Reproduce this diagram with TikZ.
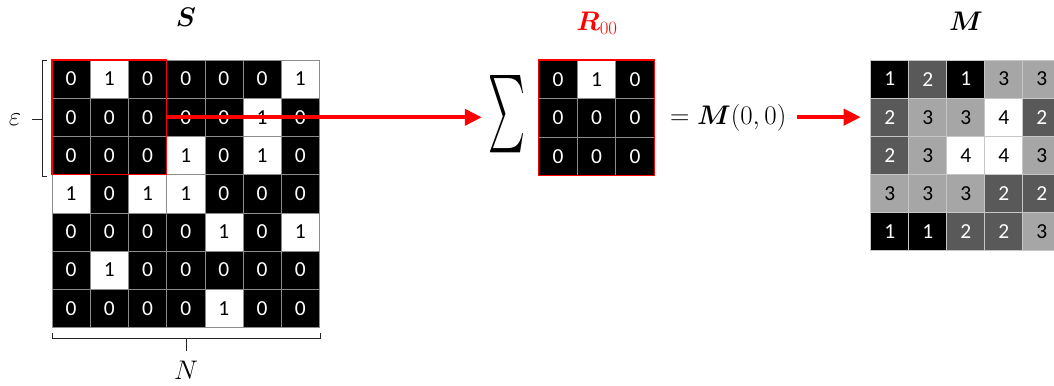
\RequirePackage{fix-cm}
\documentclass[tikz,border=0pt]{standalone}
\usepackage{amsmath}
\usepackage{bm}
\usepackage{fontspec}
\newfontfamily\cellfont{Carlito}
\usetikzlibrary{arrows.meta}
\definecolor{mdark}{HTML}{595959}
\definecolor{mlight}{HTML}{A6A6A6}
\definecolor{gridline}{HTML}{8C8C8C}
\begin{document}
\begin{tikzpicture}[x=1bp,y=-1bp,
  cellbase/.style={draw=gridline, line width=0.6bp, inner sep=0, outer sep=0,
    anchor=north west, font=\cellfont\fontsize{21.5}{22}\selectfont},
  scell/.style={cellbase, minimum width=38.2bp, minimum height=38.2bp},
  rcell/.style={cellbase, minimum width=38.5bp, minimum height=38.5bp},
  mcell/.style={cellbase, draw=gray!45, minimum width=38bp, minimum height=38.1bp},
  sv0/.style={fill=black, text=white},
  sv1/.style={fill=white, text=black},
  mv1/.style={fill=black, text=white},
  mv2/.style={fill=mdark, text=white},
  mv3/.style={fill=mlight, text=black},
  mv4/.style={fill=white, text=black},
  window/.style={draw=red, line width=1.2bp, inner sep=0, outer sep=0, anchor=north west},
  bracket/.style={line width=1bp, black!85},
  arr/.style={red, line width=4bp, -{Triangle[length=17bp,width=16bp]}},
  lbl/.style={font=\fontsize{27}{32}\selectfont, inner sep=0},
  mathlbl/.style={font=\fontsize{27}{32}\selectfont, inner sep=0}
]
\useasboundingbox (0,0) rectangle (1054,385);
\clip (0,0) rectangle (1054,385);

% binary matrix S
\foreach \row [count=\r from 0] in {{0,1,0,0,0,0,1},{0,0,0,0,0,1,0},{0,0,0,1,0,1,0},
    {1,0,1,1,0,0,0},{0,0,0,0,1,0,1},{0,1,0,0,0,0,0},{0,0,0,0,1,0,0}}{
  \foreach \v [count=\c from 0] in \row {
    \node[scell, sv\v] (s-\r-\c) at ({52+38.2*\c},{60+38.2*\r}) {\v};
  }
}
\node[window, minimum width=114.6bp, minimum height=114.6bp] (win) at (52,60) {};
\node[lbl] (slbl) at (186,17) {$\bm{S}$};

% epsilon bracket
\draw[bracket] (47,60) -- (42,60) -- (42,176) -- (47,176);
\draw[bracket] (42,119) -- (32,119);
\node[mathlbl] (eps) at (15,120) {$\varepsilon$};

% N bracket
\draw[bracket] (52,333) -- (52,338) -- (320,338) -- (320,333);
\draw[bracket] (186,338) -- (186,351);
\node[mathlbl] (nlbl) at (186,370) {$N$};

% summation over the window R00
\node[inner sep=0] (sig) at (506.5,114) {\resizebox{37bp}{58bp}{$\sum$}};
\foreach \row [count=\r from 0] in {{0,1,0},{0,0,0},{0,0,0}}{
  \foreach \v [count=\c from 0] in \row {
    \node[rcell, sv\v] (r-\r-\c) at ({538.7+38.5*\c},{60+38.5*\r}) {\v};
  }
}
\node[window, minimum width=115.5bp, minimum height=115.5bp] (rwin) at (538.7,60) {};
\node[lbl, red] (rlbl) at (597,23) {$\bm{R}_{00}$};

\node[mathlbl, anchor=west] (eq) at (670,118) {$= \bm{M}(0,0)$};

% count matrix M
\foreach \row [count=\r from 0] in {{1,2,1,3,3},{2,3,3,4,2},{2,3,4,4,3},{3,3,3,2,2},{1,1,2,2,3}}{
  \foreach \v [count=\c from 0] in \row {
    \node[mcell, mv\v] (m-\r-\c) at ({870.7+38*\c},{60+38.1*\r}) {\v};
  }
}
\node[lbl] (mlbl) at (966,21) {$\bm{M}$};

% arrows
\draw[arr, shorten >=6bp] (win.east) -- (win.east -| sig.west);
\draw[arr, shorten <=10bp, shorten >=10bp] (eq.east |- m-1-0.west) -- (m-1-0.west);
\end{tikzpicture}
\end{document}
